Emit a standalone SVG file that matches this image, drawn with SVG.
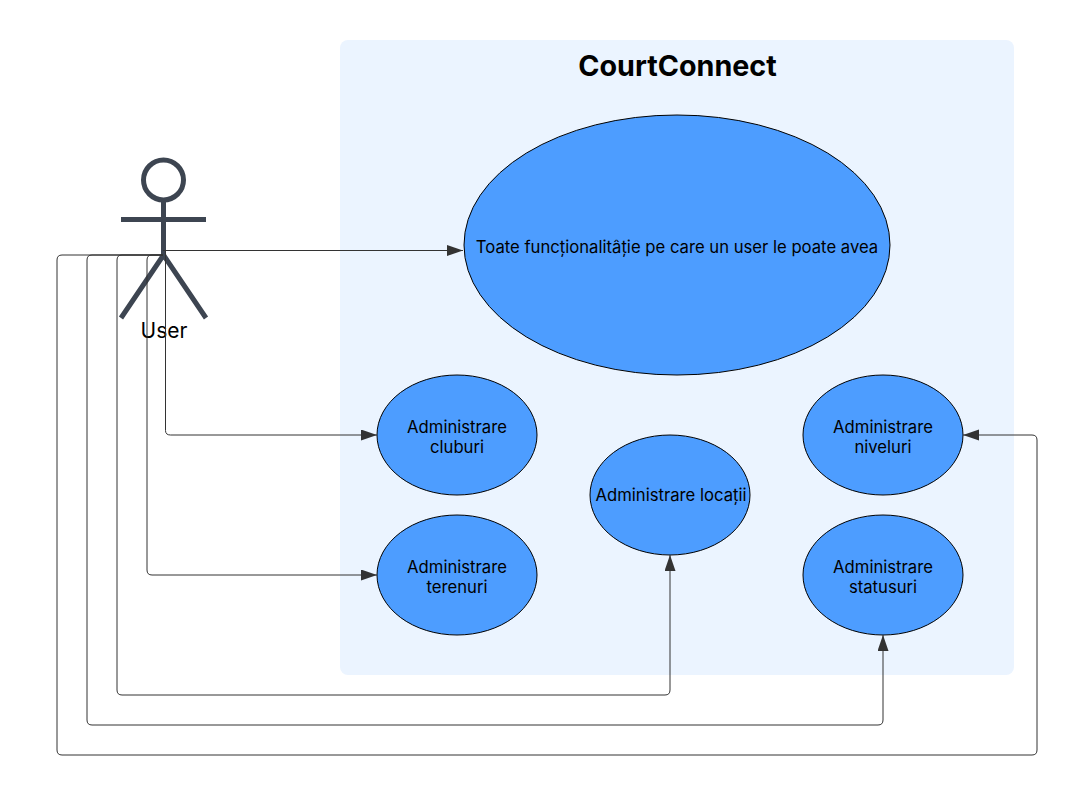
<svg xmlns="http://www.w3.org/2000/svg" width="1077" height="795" viewBox="0 0 1077 795">
<style>
text{font-family:Inter,"Liberation Sans",sans-serif;fill:#000;text-anchor:middle}
.l{font-size:16.67px}
.uc{fill:#4d9dff;stroke:#000;stroke-width:1}
.c{fill:none;stroke:#333;stroke-width:1}
.a{fill:none;stroke:#3d4551;stroke-width:5}
</style>
<defs><marker id="arr" markerUnits="userSpaceOnUse" markerWidth="17" markerHeight="12" refX="16" refY="5.500" orient="auto"><path d="M0 0L16 5.500L0 11Z" fill="#333"/></marker></defs>
<rect id="boundary" x="340" y="40" width="674" height="635" rx="8" fill="#ebf4ff"/>
<text x="677.500" y="76" font-size="28.700" font-weight="700">CourtConnect</text>
<g id="actor">
<circle class="a" cx="163.500" cy="180" r="20"/>
<path class="a" d="M163.500 200V255M121 219.500H206M163.500 255L121 318M163.500 255L206 318"/>
<text x="164" y="338" font-size="21">User</text>
</g>
<g id="uc-all"><ellipse class="uc" cx="677" cy="245" rx="213" ry="130"/><text class="l" x="677" y="253">Toate funcționalitâție pe care un user le poate avea</text></g>
<g id="uc-clubs"><ellipse class="uc" cx="457" cy="435" rx="80" ry="60"/><text class="l" x="457" y="433">Administrare</text><text class="l" x="457" y="453">cluburi</text></g>
<g id="uc-courts"><ellipse class="uc" cx="457" cy="575" rx="80" ry="60"/><text class="l" x="457" y="573">Administrare</text><text class="l" x="457" y="593">terenuri</text></g>
<g id="uc-loc"><ellipse class="uc" cx="670" cy="495" rx="80" ry="60"/><text class="l" x="671" y="501">Administrare locații</text></g>
<g id="uc-levels"><ellipse class="uc" cx="883" cy="435" rx="80" ry="60"/><text class="l" x="883" y="433">Administrare</text><text class="l" x="883" y="453">niveluri</text></g>
<g id="uc-status"><ellipse class="uc" cx="883" cy="575" rx="80" ry="60"/><text class="l" x="883" y="573">Administrare</text><text class="l" x="883" y="593">statusuri</text></g>
<g id="connectors">
<path class="c" marker-end="url(#arr)" d="M163 250.500H463"/>
<path class="c" marker-end="url(#arr)" d="M165.500 250V430.500Q165.500 435 170.500 435H377"/>
<path class="c" marker-end="url(#arr)" d="M163 255H152Q147 255 147 260V570Q147 575 152 575H377"/>
<path class="c" marker-end="url(#arr)" d="M163 255H122Q117 255 117 260V690Q117 695 122 695H665Q670 695 670 690V555"/>
<path class="c" marker-end="url(#arr)" d="M163 255H92Q87 255 87 260V720Q87 725 92 725H878Q883 725 883 720V635"/>
<path class="c" marker-end="url(#arr)" d="M163 255H62Q57 255 57 260V750Q57 755 62 755H1032Q1037 755 1037 750V440Q1037 435 1032 435H963"/>
</g>
</svg>
